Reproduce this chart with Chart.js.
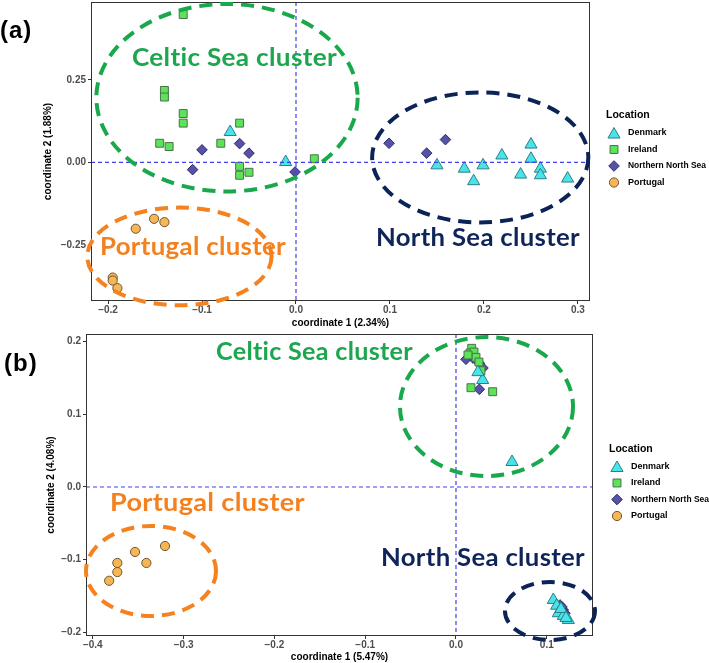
<!DOCTYPE html>
<html><head><meta charset="utf-8">
<script src="https://cdn.jsdelivr.net/npm/chart.js@4.4.0/dist/chart.umd.min.js"></script>
<style>
html,body{margin:0;padding:0;background:#fff;}
#wrap{position:relative;width:709px;height:663px;overflow:hidden;background:#fff;}
canvas{position:absolute;left:0;}
#ca{top:0}
#cb{top:330px}
.pl{position:absolute;font:bold 24px "Liberation Sans",Arial,sans-serif;line-height:24px;letter-spacing:1px;color:#000;}
</style></head>
<body><div id="wrap">
<canvas id="ca" width="709" height="330"></canvas>
<canvas id="cb" width="709" height="333"></canvas>
<div class="pl" style="left:0px;top:18px">(a)</div>
<div class="pl" style="left:4px;top:351px">(b)</div>
</div>
<script>
// ---------------- data ----------------
const locations = ['Denmark', 'Ireland', 'Northern North Sea', 'Portugal'];

// panel (a): [coordinate 1, coordinate 2]
const aDenmark = [[-0.070,0.092],[-0.011,0.001],[0.150,-0.009],[0.179,-0.019],[0.189,-0.057],[0.199,-0.009],[0.219,0.021],[0.250,0.054],[0.250,0.011],[0.239,-0.037],[0.260,-0.019],[0.260,-0.039],[0.289,-0.049]];
const aIreland = [[-0.120,0.448],[-0.140,0.218],[-0.140,0.198],[-0.120,0.148],[-0.120,0.119],[-0.060,0.119],[-0.145,0.058],[-0.135,0.048],[-0.080,0.058],[-0.060,-0.012],[-0.060,-0.039],[-0.050,-0.030],[0.0195,0.011]];
const aNNS = [[-0.100,0.038],[-0.110,-0.022],[-0.060,0.057],[-0.050,0.028],[-0.001,-0.029],[0.099,0.058],[0.139,0.028],[0.159,0.069]];
const aPortugal = [[-0.1705,-0.201],[-0.151,-0.171],[-0.140,-0.181],[-0.195,-0.349],[-0.195,-0.358],[-0.190,-0.381]];

// panel (b)
const bDenmark = [[0.0294,0.1472],[0.0242,0.158],[0.0617,0.0344],[0.1072,-0.1554],[0.1109,-0.1633],[0.1127,-0.1737],[0.1182,-0.1774],[0.1237,-0.1829],[0.1156,-0.1678],[0.1211,-0.1802]];
const bIreland = [[0.0173,0.1908],[0.0154,0.1843],[0.0198,0.1857],[0.0220,0.1784],[0.0253,0.1719],[0.0275,0.1600],[0.0165,0.1366],[0.0404,0.1311],[0.0132,0.1816]];
const bNNS = [[0.0110,0.1757],[0.0187,0.1775],[0.0257,0.1702],[0.0297,0.1637],[0.0257,0.1344],[0.1145,-0.1623],[0.1182,-0.1692],[0.1200,-0.1737],[0.1167,-0.165]];
const bPortugal = [[-0.382,-0.129],[-0.373,-0.117],[-0.373,-0.1045],[-0.3535,-0.0894],[-0.341,-0.1045],[-0.3205,-0.0812]];

const aXTicks = [-0.2,-0.1,0,0.1,0.2,0.3];
const aXLabels = ['\u22120.2','\u22120.1','0.0','0.1','0.2','0.3'];
const aYTicks = [-0.25,0,0.25];
const aYLabels = ['\u22120.25','0.00','0.25'];
const bXTicks = [-0.4,-0.3,-0.2,-0.1,0,0.1];
const bXLabels = ['\u22120.4','\u22120.3','\u22120.2','\u22120.1','0.0','0.1'];
const bYTicks = [-0.2,-0.1,0,0.1,0.2];
const bYLabels = ['\u22120.2','\u22120.1','0.0','0.1','0.2'];

const aTitles = ['coordinate 1 (2.34%)','coordinate 2 (1.88%)'];
const bTitles = ['coordinate 1 (5.47%)','coordinate 2 (4.08%)'];
const clusterNames = ['Celtic Sea cluster','North Sea cluster','Portugal cluster'];

// ---------------- styles ----------------
const FONT = '"Liberation Sans", Arial, Helvetica, sans-serif';
const STY = {
  'Denmark': {pointStyle:'triangle', r:7, bg:'#48e4ea', bd:'#2f7d85'},
  'Ireland': {pointStyle:'rect', r:5.6, bg:'#5ce35a', bd:'#4a724a'},
  'Northern North Sea': {pointStyle:'rectRot', r:5.3, bg:'#5552a8', bd:'#2c2c66'},
  'Portugal': {pointStyle:'circle', r:4.6, bg:'#f6b655', bd:'#6e5631'}
};
const CLR = {green:'#19a84c', navy:'#0c2357', orange:'#f5821f'};
const ZERO = {color: '#4040e8', dash: [4, 3]};

function toPts(arr){ return arr.map(p => ({x:p[0], y:p[1]})); }
function makeDatasets(series){
  return locations.map((loc, i) => {
    const s = STY[loc];
    return {label: loc, data: toPts(series[i]), pointStyle: s.pointStyle, pointRadius: s.r, pointHoverRadius: s.r,
      backgroundColor: s.bg, borderColor: s.bd, borderWidth: 1, pointBorderWidth: 1};
  });
}

function drawMarker(ctx, ds, x, y){
  const r = ds.pointRadius;
  ctx.beginPath();
  switch (ds.pointStyle){
    case 'triangle': ctx.moveTo(x, y - r); ctx.lineTo(x + 0.866*r, y + 0.5*r); ctx.lineTo(x - 0.866*r, y + 0.5*r); ctx.closePath(); break;
    case 'rect': { const s = r*Math.SQRT1_2; ctx.rect(x - s, y - s, 2*s, 2*s); break; }
    case 'rectRot': ctx.moveTo(x - r, y); ctx.lineTo(x, y - r); ctx.lineTo(x + r, y); ctx.lineTo(x, y + r); ctx.closePath(); break;
    default: ctx.arc(x, y, r, 0, Math.PI*2);
  }
  ctx.fillStyle = ds.backgroundColor; ctx.fill();
  ctx.strokeStyle = ds.borderColor; ctx.lineWidth = 1; ctx.stroke();
}

const overlay = {
  id: 'overlay',
  afterDatasetsDraw(chart){
    const {ctx, chartArea: ca, scales: {x, y}} = chart;
    const x0 = x.getPixelForValue(0), y0 = y.getPixelForValue(0);
    ctx.save();
    ctx.strokeStyle = ZERO.color; ctx.lineWidth = 1.2; ctx.setLineDash(ZERO.dash);
    ctx.beginPath();
    ctx.moveTo(x0, ca.top); ctx.lineTo(x0, ca.bottom);
    ctx.stroke();
    ctx.beginPath();
    ctx.moveTo(ca.left, y0); ctx.lineTo(ca.right, y0);
    ctx.stroke();
    ctx.restore();
  },
  afterDraw(chart, args, opts){
    const {ctx, chartArea: ca, scales: {x, y}} = chart;
    ctx.save();
    // panel border
    ctx.strokeStyle = '#333'; ctx.lineWidth = 1; ctx.setLineDash([]);
    ctx.strokeRect(ca.left + 0.5, ca.top + 0.5, ca.width - 1, ca.height - 1);
    // ellipses
    (opts.ellipses || []).forEach(e => {
      const cx = x.getPixelForValue(e.cx), cy = y.getPixelForValue(e.cy);
      const rx = Math.abs(x.getPixelForValue(e.cx + e.rx) - cx);
      const ry = Math.abs(y.getPixelForValue(e.cy + e.ry) - cy);
      ctx.beginPath(); ctx.setLineDash([13, 8]); ctx.lineWidth = 4; ctx.strokeStyle = e.color; ctx.lineCap = 'butt';
      ctx.ellipse(cx, cy, rx, ry, 0, 0, Math.PI*2); ctx.stroke();
    });
    ctx.setLineDash([]);
    // cluster labels
    (opts.labels || []).forEach(l => {
      const p1 = x.getPixelForValue(l.x1), p2 = x.getPixelForValue(l.x2), py = y.getPixelForValue(l.y);
      ctx.save();
      ctx.font = 'bold 25px Lato, "Open Sans", sans-serif';
      if ('letterSpacing' in ctx) ctx.letterSpacing = '0.3px';
      const w = ctx.measureText(l.text).width;
      ctx.translate(p1, py); ctx.scale((p2 - p1)/w, 1);
      ctx.fillStyle = l.color; ctx.textAlign = 'left'; ctx.textBaseline = 'alphabetic';
      ctx.fillText(l.text, 0, 0); ctx.restore();
    });
    // legend
    const mid = (ca.top + ca.bottom)/2;
    ctx.fillStyle = '#000'; ctx.textAlign = 'left'; ctx.textBaseline = 'middle';
    ctx.font = 'bold 10.5px ' + FONT;
    ctx.fillText('Location', ca.right + 16, mid - 36);
    ctx.font = 'bold 9px ' + FONT;
    chart.data.datasets.forEach((ds, i) => {
      const yy = mid - 18.5 + i*16.5;
      drawMarker(ctx, ds, ca.right + 24, yy + (ds.pointStyle === 'triangle' ? 1.5 : 0));
      ctx.fillStyle = '#000';
      const tw = ctx.measureText(ds.label).width;
      const maxW = 78;
      ctx.save();
      ctx.translate(ca.right + 38, yy);
      if (tw > maxW) ctx.scale(maxW / tw, 1);
      ctx.fillText(ds.label, 0, 0);
      ctx.restore();
    });
    ctx.restore();
  }
};

const NOPAD = () => ({left: 0, top: 0, right: 0, bottom: 0});

function axis(ticks, labels, min, max, title, fit, isX, tickPad, titlePad){
  return {
    type: 'linear', min: min, max: max,
    afterBuildTicks: s => { s.ticks = ticks.map(v => ({value: v})); },
    afterFit: s => {
      if (isX) { s.height = fit; } else { s.width = fit; }
      s.paddingLeft = 0; s.paddingRight = 0; s.paddingTop = 0; s.paddingBottom = 0;
      s.getPadding = NOPAD;
    },
    ticks: {callback: (v, i) => labels[i], color: '#4d4d4d',
      font: {family: FONT, size: 10, weight: 'bold'},
      padding: tickPad, maxRotation: 0, minRotation: 0, autoSkip: false},
    grid: {drawOnChartArea: false, drawTicks: true, tickLength: 3, color: '#333', tickColor: '#333', lineWidth: 1},
    border: {display: false},
    title: {display: true, text: title, color: '#000', font: {family: FONT, size: 10, weight: 'bold'}, padding: titlePad}
  };
}

function makeChart(id, series, xs, ys, pad, ellipses, labels){
  return new Chart(document.getElementById(id), {
    type: 'scatter',
    data: {datasets: makeDatasets(series)},
    options: {
      responsive: false, animation: false, events: [],
      layout: {padding: pad, autoPadding: false},
      plugins: {legend: {display: false}, tooltip: {enabled: false}, overlay: {ellipses: ellipses, labels: labels}},
      scales: {x: xs, y: ys}
    },
    plugins: [overlay]
  });
}

makeChart('ca', [aDenmark, aIreland, aNNS, aPortugal],
  axis(aXTicks, aXLabels, -0.2181, 0.3128, aTitles[0], 29, true, 0, {top: 0, bottom: 1}),
  axis(aYTicks, aYLabels, -0.42, 0.486, aTitles[1], 91, false, 2, {top: 42, bottom: 0}),
  {left: 0, right: 119, top: 2, bottom: 0},
  [
    {cx: -0.0734, cy: 0.196, rx: 0.139, ry: 0.284, color: CLR.green},
    {cx: 0.196, cy: 0.015, rx: 0.115, ry: 0.197, color: CLR.navy},
    {cx: -0.124, cy: -0.285, rx: 0.098, ry: 0.148, color: CLR.orange}
  ],
  [
    {text: clusterNames[0], x1: -0.1745, x2: 0.0436, y: 0.2909, color: '#1ca64d'},
    {text: clusterNames[1], x1: 0.0851, x2: 0.3021, y: -0.2545, color: '#0f2459'},
    {text: clusterNames[2], x1: -0.2085, x2: -0.0106, y: -0.2818, color: '#f4811f'}
  ]);

makeChart('cb', [bDenmark, bIreland, bNNS, bPortugal],
  axis(bXTicks, bXLabels, -0.4075, 0.1509, bTitles[0], 27, true, 0, {top: 0, bottom: 0}),
  axis(bYTicks, bYLabels, -0.205, 0.2105, bTitles[1], 86, false, 2, {top: 45, bottom: 0}),
  {left: 0, right: 116, top: 4, bottom: 0},
  [
    {cx: 0.0336, cy: 0.1107, rx: 0.0953, ry: 0.0956, color: CLR.green},
    {cx: -0.3359, cy: -0.1155, rx: 0.0716, ry: 0.0619, color: CLR.orange},
    {cx: 0.1035, cy: -0.1706, rx: 0.0496, ry: 0.0399, color: CLR.navy}
  ],
  [
    {text: clusterNames[0], x1: -0.2643, x2: -0.0474, y: 0.1747, color: '#1ca64d'},
    {text: clusterNames[2], x1: -0.3811, x2: -0.1663, y: -0.0330, color: '#f4811f'},
    {text: clusterNames[1], x1: -0.0826, x2: 0.1421, y: -0.1087, color: '#0f2459'}
  ]);
</script>
</body></html>
